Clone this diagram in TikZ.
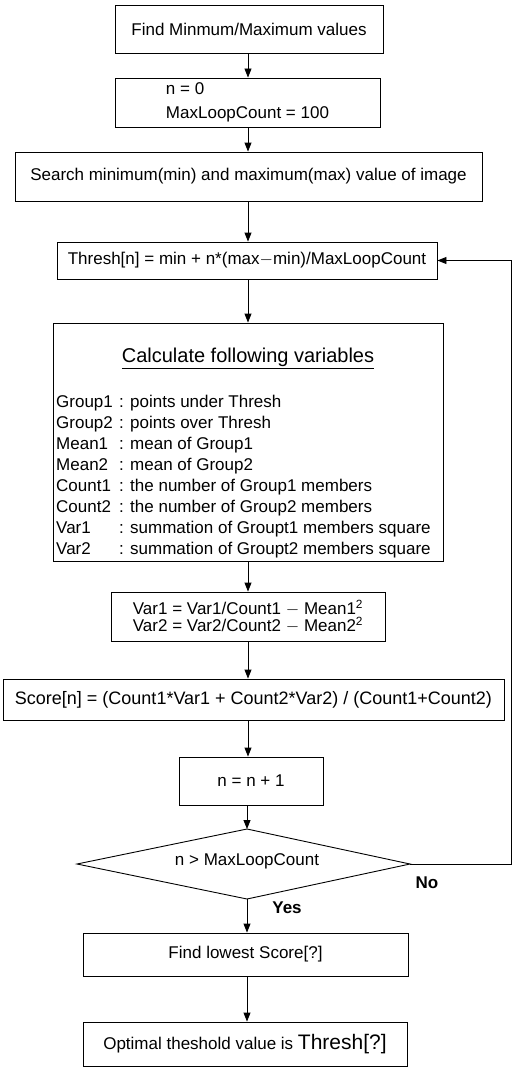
\documentclass[tikz,border=0pt]{standalone}
\usepackage{fontspec}
\setmainfont{Liberation Sans}
\usetikzlibrary{arrows.meta}
\begin{document}
\begin{tikzpicture}[x=1pt,y=-1pt,
  every node/.style={font=\fontsize{17}{20}\selectfont},
  box/.style={draw,line width=0.9pt,inner sep=0pt,align=center},
  arr/.style={line width=0.9pt,-{Triangle[length=9pt,width=7pt]}},
  ln/.style={line width=0.9pt}]
\useasboundingbox (0,0) rectangle (515,1070);
\node[box,minimum width=268,minimum height=48] (b1) at (249,29) {Find Minmum/Maximum values};
\node[box,minimum width=265,minimum height=49,align=left,font=\fontsize{17}{24}\selectfont] (b2) at (247.5,102.5) {n = 0\\MaxLoopCount = 100};
\node[box,minimum width=467,minimum height=49] (b3) at (248.5,176.5) {Search minimum(min) and maximum(max) value of image};
\node[box,minimum width=380,minimum height=37] (b4) at (247,260.5) {Thresh[n] = min + n*(max$-$min)/MaxLoopCount};
\node[box,minimum width=390,minimum height=238] (b5) at (248,442) {};
\node[font=\fontsize{20}{22}\selectfont] (t5) at (248,358) {\underline{Calculate following variables}};
\node[anchor=north west,inner sep=0pt,align=left,font=\fontsize{17}{21}\selectfont] (l5) at (56,393) {%
\begin{tabular}{@{}p{63pt}@{}l@{}}
Group1 & : points under Thresh\\
Group2 & : points over Thresh\\
Mean1 & : mean of Group1\\
Mean2 & : mean of Group2\\
Count1 & : the number of Group1 members\\
Count2 & : the number of Group2 members\\
Var1 & : summation of Groupt1 members square\\
Var2 & : summation of Groupt2 members square
\end{tabular}};
\node[box,minimum width=274,minimum height=49,font=\fontsize{17}{17}\selectfont] (b6) at (248,616.5) {Var1 = Var1/Count1 $-$ Mean1\textsuperscript{2}\\Var2 = Var2/Count2 $-$ Mean2\textsuperscript{2}};
\node[box,minimum width=501,minimum height=41,font=\fontsize{18}{20}\selectfont] (b7) at (253.5,699.5) {Score[n] = (Count1*Var1 + Count2*Var2) / (Count1+Count2)};
\node[box,minimum width=144,minimum height=48] (b8) at (251,781) {n = n + 1};
\coordinate (dT) at (247,829);
\coordinate (dR) at (410,864);
\coordinate (dB) at (247,899);
\coordinate (dL) at (77,864);
\draw[ln] (dT) -- (dR) -- (dB) -- (dL) -- cycle;
\node (d) at (247,861) {n > MaxLoopCount};
\node[box,minimum width=325,minimum height=43] (b9) at (245.5,954.5) {Find lowest Score[?]};
\node[box,minimum width=324,minimum height=44] (b10) at (245,1044) {Optimal theshold value is {\fontsize{21}{23}\selectfont Thresh[?]}};
\node[font=\fontsize{17}{20}\selectfont\bfseries] (no) at (427,883) {No};
\node[font=\fontsize{17}{20}\selectfont\bfseries] (yes) at (287,908) {Yes};
\coordinate (c1) at (511,864);
\draw[arr] (b1.south -| 248,0) -- (b2.north -| 248,0);
\draw[arr] (b2.south -| 248,0) -- (b3.north -| 248,0);
\draw[arr] (b3.south -| 248,0) -- (b4.north -| 248,0);
\draw[arr] (b4.south -| 248,0) -- (b5.north -| 248,0);
\draw[arr] (b5.south -| 248,0) -- (b6.north -| 248,0);
\draw[arr] (b6.south -| 248,0) -- (b7.north -| 248,0);
\draw[arr] (b7.south -| 248,0) -- (b8.north -| 248,0);
\draw[arr] (b8.south -| dT) -- (dT);
\draw[arr] (dB) -- (b9.north -| dB);
\draw[arr] (b9.south -| dB) -- (b10.north -| dB);
\draw[arr] (dR) -- (c1) |- (b4.east);
\end{tikzpicture}
\end{document}
